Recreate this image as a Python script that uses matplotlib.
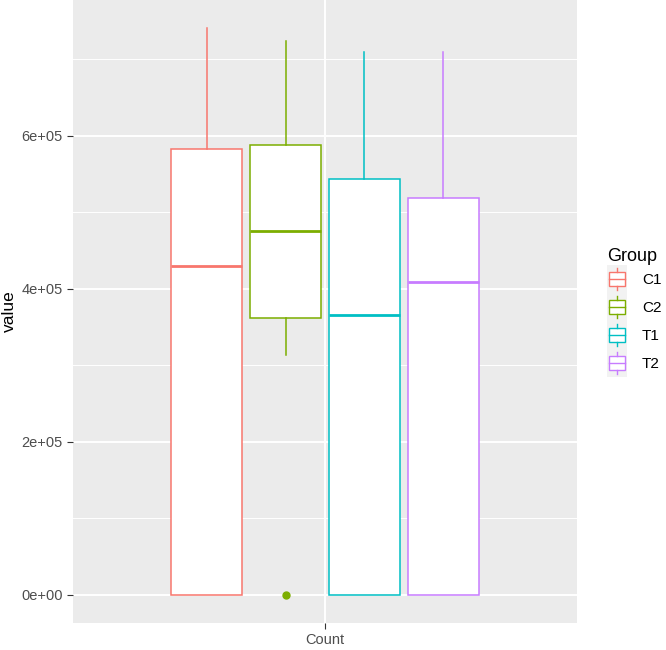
import numpy as np
import matplotlib
matplotlib.use("Agg")
import matplotlib.pyplot as plt
from matplotlib.patches import Rectangle, Patch
from matplotlib.lines import Line2D
from matplotlib.legend_handler import HandlerBase

plt.rcParams['font.family'] = ['Liberation Sans', 'DejaVu Sans']

groups = ['C1', 'C2', 'T1', 'T2']
colors = ['#F8766D', '#7CAE00', '#00BFC4', '#C77CFF']
whis_lo = [0, 314000, 0, 0]
q1 = [0, 362000, 0, 0]
median = [429500, 475700, 366300, 409500]
q3 = [583300, 588100, 544100, 519300]
whis_hi = [740600, 723500, 709700, 709700]
outliers = [[], [0], [], []]
x_label = 'Count'


class BoxKey(HandlerBase):
    def create_artists(self, legend, orig_handle, xdescent, ydescent,
                       width, height, fontsize, trans):
        c = orig_handle.get_edgecolor()
        x0, y0 = -xdescent, -ydescent
        bg = Rectangle((x0, y0), width, height, facecolor='#F2F2F2',
                       edgecolor='none', transform=trans)
        box = Rectangle((x0 + 0.1 * width, y0 + 0.25 * height), 0.8 * width,
                        0.5 * height, facecolor='white', edgecolor=c,
                        lw=1.0, transform=trans)
        med = Line2D([x0 + 0.1 * width, x0 + 0.9 * width],
                     [y0 + 0.5 * height] * 2, color=c, lw=1.0, transform=trans)
        w1 = Line2D([x0 + 0.5 * width] * 2, [y0 + 0.1 * height, y0 + 0.25 * height],
                    color=c, lw=1.0, transform=trans)
        w2 = Line2D([x0 + 0.5 * width] * 2, [y0 + 0.75 * height, y0 + 0.9 * height],
                    color=c, lw=1.0, transform=trans)
        return [bg, box, med, w1, w2]


fig = plt.figure(figsize=(6.66, 6.5), dpi=100)
ax = fig.add_axes([0.1096, 0.0415, 0.7568, 0.9585])
ax.set_facecolor('#EBEBEB')

n = len(groups)
dodge = 0.75 / n
for i in range(n):
    pos = 1 + (i - (n - 1) / 2) * dodge
    st = [dict(med=median[i], q1=q1[i], q3=q3[i], whislo=whis_lo[i],
               whishi=whis_hi[i], fliers=outliers[i])]
    ax.bxp(st, positions=[pos], widths=[dodge * 0.9], patch_artist=True,
           showcaps=False, manage_ticks=False,
           boxprops=dict(facecolor='white', edgecolor=colors[i], lw=1.1),
           medianprops=dict(color=colors[i], lw=2.0),
           whiskerprops=dict(color=colors[i], lw=1.1),
           flierprops=dict(marker='o', markerfacecolor=colors[i],
                           markeredgecolor=colors[i], markersize=5),
           zorder=3)

allv = whis_lo + whis_hi + [v for o in outliers for v in o]
lo, hi = min(allv), max(allv)
pad = 0.05 * (hi - lo)
ax.set_ylim(lo - pad, hi + pad)
ax.set_xlim(0.4, 1.6)

ax.set_yticks([0, 200000, 400000, 600000])
ax.set_yticks([100000, 300000, 500000, 700000], minor=True)
ax.set_yticklabels([f"{v:.0e}" for v in [0, 200000, 400000, 600000]])
ax.set_xticks([1])
ax.set_xticklabels([x_label])

ax.grid(True, which='major', color='white', lw=1.4, zorder=0)
ax.grid(True, which='minor', axis='y', color='white', lw=0.7, zorder=0)
ax.set_axisbelow(True)
for s in ax.spines.values():
    s.set_visible(False)
ax.tick_params(axis='both', which='major', length=4, color='#333333',
               labelcolor='#4D4D4D', labelsize=10.5, width=0.8)
ax.tick_params(axis='y', which='minor', length=0)
ax.set_ylabel('value', fontsize=12.5, labelpad=3)

handles = [Patch(facecolor='white', edgecolor=c) for c in colors]
leg = fig.legend(handles, groups, title='Group', loc='center left',
                 bbox_to_anchor=(0.895, 0.519), frameon=False,
                 handler_map={Patch: BoxKey()}, fontsize=11,
                 title_fontsize=13, handlelength=1.3, handleheight=2.45,
                 labelspacing=0.0, handletextpad=1.0, borderpad=0.2)
leg._legend_box.align = 'left'

fig.savefig('out.png', dpi=100)
